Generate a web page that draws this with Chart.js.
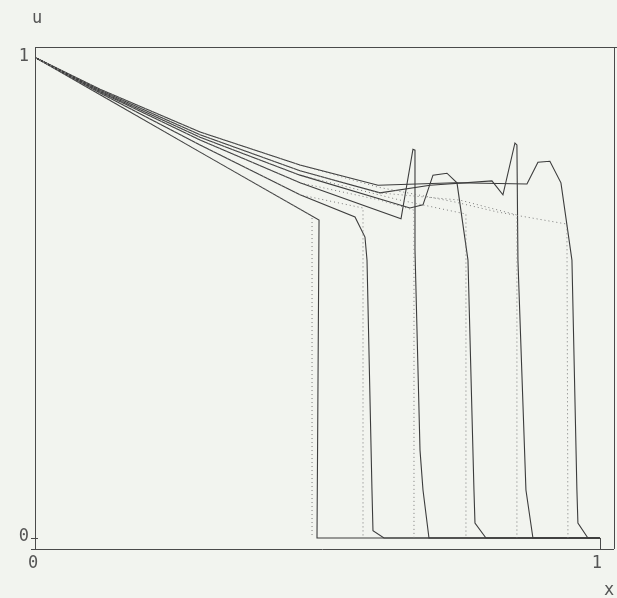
<!DOCTYPE html>
<html>
<head>
<meta charset="utf-8">
<script src="https://cdn.jsdelivr.net/npm/chart.js@4/dist/chart.umd.min.js"></script>
<style>
  body { margin: 0; background: #f2f4ef; }
  canvas { display: block; }
</style>
</head>
<body>
<canvas id="myChart" width="617" height="598"></canvas>
<script>
// numerical solutions (solid), six time levels
var c1X = [0, 0.1135, 0.2908, 0.5018, 0.4982, 1];
var c1U = [1, 0.9235, 0.804, 0.6625, 0, 0];

var c2X = [0, 0.1135, 0.2908, 0.4681, 0.5656, 0.5833, 0.5869, 0.5957, 0.5975, 0.6170, 1];
var c2U = [1, 0.927, 0.819, 0.715, 0.669, 0.627, 0.579, 0.1, 0.015, 0, 0];

var c3X = [0, 0.1135, 0.2908, 0.4681, 0.6472, 0.6684, 0.6720, 0.6720, 0.6809, 0.6862, 0.6968, 1];
var c3U = [1, 0.929, 0.829, 0.740, 0.665, 0.810, 0.808, 0.6, 0.183, 0.1, 0, 0];

var c4X = [0, 0.1135, 0.2908, 0.4681, 0.6631, 0.6862, 0.7039, 0.7287, 0.7465, 0.7660, 0.7766, 0.7784, 0.7979, 1];
var c4U = [1, 0.931, 0.835, 0.756, 0.6875, 0.694, 0.756, 0.760, 0.740, 0.579, 0.1, 0.031, 0, 0];

var c5X = [0, 0.1135, 0.2908, 0.4681, 0.6099, 0.6986, 0.8085, 0.8280, 0.8493, 0.8528, 0.8546, 0.8688, 0.8812, 1];
var c5U = [1, 0.933, 0.840, 0.765, 0.719, 0.735, 0.744, 0.715, 0.823, 0.819, 0.579, 0.1, 0, 0];

var c6X = [0, 0.1135, 0.2908, 0.4681, 0.6064, 0.7429, 0.8706, 0.8901, 0.9113, 0.9309, 0.9504, 0.9592, 0.9610, 0.9787, 1];
var c6U = [1, 0.935, 0.846, 0.777, 0.735, 0.740, 0.7375, 0.783, 0.785, 0.740, 0.579, 0.1, 0.031, 0, 0];

// exact solutions (dotted)
var e1X = [0, 0.4894, 0.4894];
var e1U = [1, 0.671, 0];
var e2X = [0, 0.1135, 0.2908, 0.4681, 0.5798, 0.5798];
var e2U = [1, 0.927, 0.819, 0.715, 0.6875, 0];
var e3X = [0, 0.1135, 0.2908, 0.4681, 0.6099, 0.6702, 0.6702];
var e3U = [1, 0.929, 0.829, 0.740, 0.704, 0.683, 0];
var e4X = [0, 0.1135, 0.2908, 0.4681, 0.6454, 0.7624, 0.7624];
var e4U = [1, 0.931, 0.835, 0.756, 0.704, 0.675, 0];
var e5X = [0, 0.1135, 0.2908, 0.4681, 0.6099, 0.6932, 0.7518, 0.8528, 0.8528];
var e5U = [1, 0.933, 0.840, 0.765, 0.719, 0.710, 0.704, 0.673, 0];
var e6X = [0, 0.1135, 0.2908, 0.4681, 0.6064, 0.7429, 0.8191, 0.9415, 0.9433];
var e6U = [1, 0.935, 0.846, 0.777, 0.731, 0.700, 0.679, 0.654, 0];

var xTicks = [0, 1];
var yTicks = [0, 1];

function pts(xs, us) {
    var out = [];
    for (var i = 0; i < xs.length; i++) {
        out.push({x: xs[i], y: us[i]});
    }
    return out;
}

var solid = [[c1X, c1U], [c2X, c2U], [c3X, c3U], [c4X, c4U], [c5X, c5U], [c6X, c6U]];
var exact = [[e1X, e1U], [e2X, e2U], [e3X, e3U], [e4X, e4U], [e5X, e5U], [e6X, e6U]];

var datasets = [];
exact.forEach(function(s) {
    datasets.push({
        data: pts(s[0], s[1]),
        borderColor: '#7a7a7a',
        borderWidth: 1,
        borderDash: [1, 3]
    });
});
solid.forEach(function(s) {
    datasets.push({
        data: pts(s[0], s[1]),
        borderColor: '#3c3c3c',
        borderWidth: 1.1
    });
});

var frame = {
    id: 'frame',
    afterDraw: function(chart) {
        var ctx = chart.ctx;
        var a = chart.chartArea;
        var sx = chart.scales.x, sy = chart.scales.y;
        ctx.save();
        ctx.strokeStyle = '#4a4a4a';
        ctx.lineWidth = 1;
        ctx.beginPath();
        ctx.moveTo(a.left + 0.5, a.top);
        ctx.lineTo(a.left + 0.5, a.bottom);
        ctx.moveTo(a.left - 4, a.bottom + 0.5);
        ctx.lineTo(a.right, a.bottom + 0.5);
        ctx.moveTo(a.left, a.top + 0.5);
        ctx.lineTo(617, a.top + 0.5);
        ctx.moveTo(a.right + 0.5, a.top);
        ctx.lineTo(a.right + 0.5, a.bottom);
        // small inside ticks
        var y0 = Math.round(sy.getPixelForValue(0)) + 0.5;
        ctx.moveTo(a.left - 4, y0);
        ctx.lineTo(a.left + 3, y0);
        var x1 = Math.round(sx.getPixelForValue(1)) + 0.5;
        ctx.moveTo(x1, a.bottom);
        ctx.lineTo(x1, sy.getPixelForValue(0));
        ctx.stroke();

        ctx.fillStyle = '#555';
        ctx.font = '17px "DejaVu Sans Mono"';
        ctx.textBaseline = 'middle';
        ctx.textAlign = 'right';
        yTicks.forEach(function(v) {
            ctx.fillText(String(v), a.left - 6, sy.getPixelForValue(v) - 1);
        });
        ctx.textAlign = 'center';
        ctx.textBaseline = 'top';
        xTicks.forEach(function(v) {
            ctx.fillText(String(v), sx.getPixelForValue(v) - 3, a.bottom + 6);
        });
        ctx.textBaseline = 'middle';
        ctx.fillText('u', 37, 19);
        ctx.fillText('x', 609, 591);
        ctx.restore();
    }
};

var ctx = document.getElementById('myChart');
var myChart = new Chart(ctx, {
    type: 'line',
    data: { datasets: datasets },
    options: {
        responsive: false,
        animation: false,
        devicePixelRatio: 1,
        layout: { padding: { left: 35, top: 47, right: 3, bottom: 49 } },
        elements: { point: { radius: 0 }, line: { tension: 0 } },
        plugins: { legend: { display: false }, tooltip: { enabled: false } },
        scales: {
            x: { type: 'linear', display: false, min: -0.002, max: 1.025 },
            y: { type: 'linear', display: false, min: -0.023, max: 1.023 }
        }
    },
    plugins: [frame]
});
</script>
</body>
</html>
